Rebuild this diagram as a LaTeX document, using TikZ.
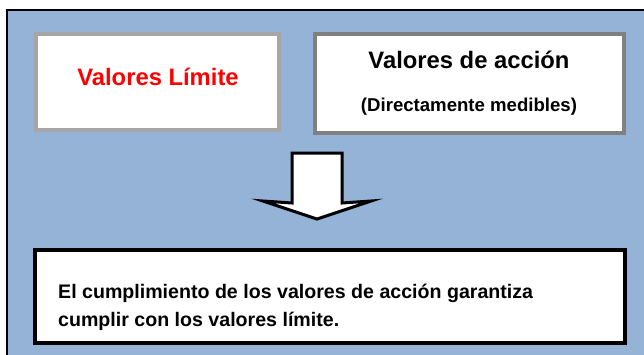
\documentclass[tikz,border=0pt]{standalone}
\usepackage{fontspec}
\setmainfont{Liberation Sans}
\definecolor{bgblue}{HTML}{95B3D7}
\definecolor{lgray}{HTML}{A6A6A6}
\definecolor{dgray}{HTML}{808080}
\definecolor{redtxt}{HTML}{FF0000}
\begin{document}
\begin{tikzpicture}[x=1pt,y=-1pt,
  box/.style={draw,fill=white,inner sep=0pt,rectangle},
  lbl/.style={inner sep=0pt,font=\bfseries}]
\useasboundingbox (0,0) rectangle (644,354);
\fill[bgblue] (7,10) rectangle (648,358);
\draw[line width=2pt] (7,358) -- (7,10) -- (648,10);
\node[box,draw=lgray,line width=4pt,minimum width=243pt,minimum height=96pt] (lim) at (157.5,82) {};
\node[box,draw=dgray,line width=4pt,minimum width=309pt,minimum height=99pt] (acc) at (469.5,83.5) {};
\node[box,draw=black,line width=3.5pt,minimum width=590pt,minimum height=93pt] (res) at (330,296.5) {};
\node[lbl,text=redtxt,font=\bfseries\fontsize{23.8}{26}\selectfont] (limtxt) at (158,77) {Valores Límite};
\node[lbl,font=\bfseries\fontsize{23.8}{26}\selectfont] (acctxt) at (469,60) {Valores de acción};
\node[lbl,font=\bfseries\fontsize{18.6}{22}\selectfont] (accsub) at (469,107) {(Directamente medibles)};
\node[lbl,anchor=base west,align=left,font=\bfseries\fontsize{19.6}{28}\selectfont] (restxt) at (58,326) {El cumplimiento de los valores de acción garantiza\\cumplir con los valores límite.};
\draw[line width=3pt,fill=white,line join=miter] (292,153) -- (342,153) -- (342,203) -- (371,201) -- (317,219) -- (263,201) -- (292,203) -- cycle;
\end{tikzpicture}
\end{document}
